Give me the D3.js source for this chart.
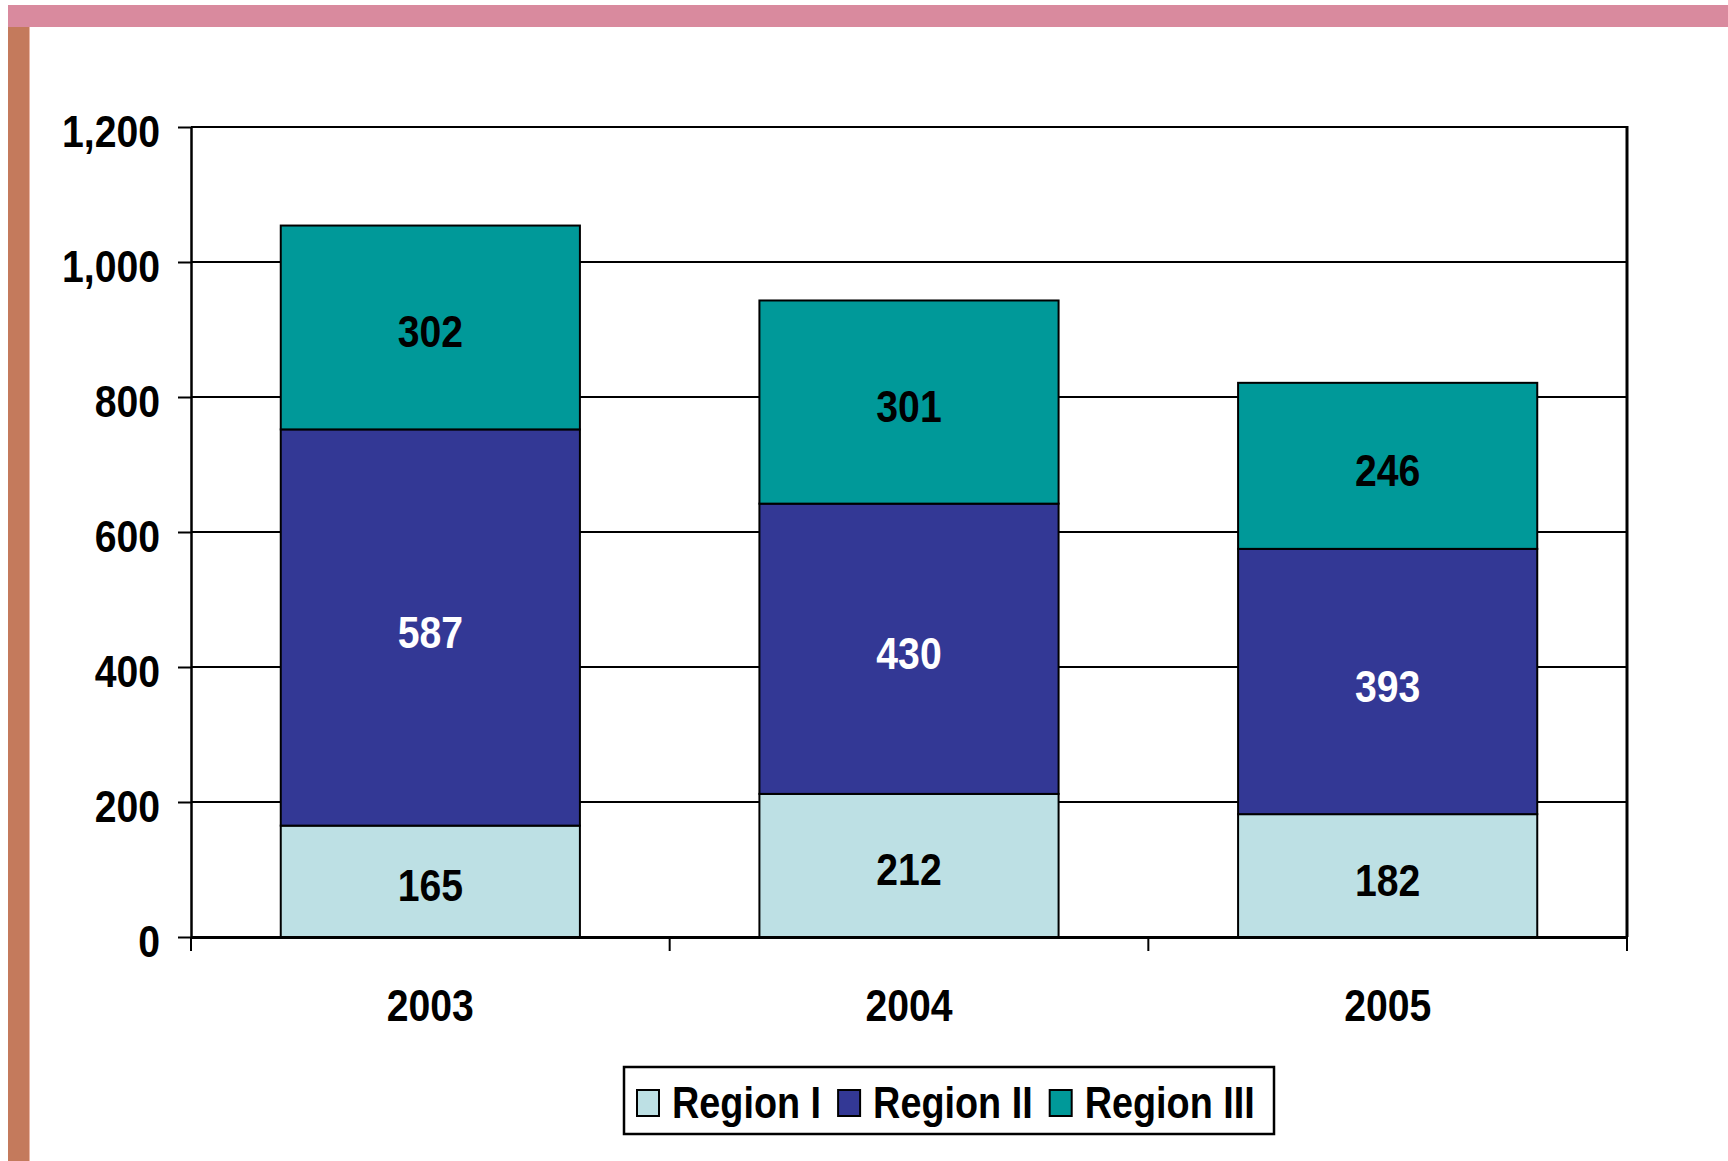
<!DOCTYPE html>
<html>
<head>
<meta charset="utf-8">
<script src="https://cdn.jsdelivr.net/npm/d3@7"></script>
<style>
  html, body { margin: 0; padding: 0; background: #fff; }
  svg { display: block; }
  text { font-family: "Liberation Sans", Arial, sans-serif; font-weight: bold; }
</style>
</head>
<body>
<script>
// data
var years = ["2003", "2004", "2005"];
var regions = ["Region I", "Region II", "Region III"];
var regionI = [165, 212, 182];
var regionII = [587, 430, 393];
var regionIII = [302, 301, 246];
var yTicks = [0, 200, 400, 600, 800, 1000, 1200];

var colors = ["#bde0e4", "#333895", "#009999"];
var labelColors = ["#000", "#fff", "#000"];

var W = 1728, H = 1161;
var NARROW = 0.87;   // Arial Narrow look: squeeze a bold sans horizontally
var NARROW_LEG = 0.84;

// move x/y into a transform so the glyphs can be squeezed
function narrow(sel, k) {
  k = k || NARROW;
  sel.each(function () {
    var t = d3.select(this);
    var tx = +t.attr("x") || 0, ty = +t.attr("y") || 0;
    t.attr("x", 0).attr("y", 0)
     .attr("transform", "translate(" + tx + "," + ty + ") scale(" + k + ",1)");
  });
}

var svg = d3.select("body").append("svg").attr("width", W).attr("height", H);

// frame decoration (pink top bar, brown left bar)
svg.append("rect").attr("x", 8).attr("y", 5).attr("width", W - 8).attr("height", 22).attr("fill", "#d98a9e");
svg.append("rect").attr("x", 8).attr("y", 27).attr("width", 21).attr("height", H - 27).attr("fill", "#c47a5c");
svg.append("rect").attr("x", 29).attr("y", 27).attr("width", 1).attr("height", H - 27).attr("fill", "#eab6a6");

var pLeft = 191, pRight = 1627, pTop = 127, pBottom = 937;

var x = d3.scaleBand().domain(years).range([pLeft, pRight]).paddingInner(0.375).paddingOuter(0.1875);
var y = d3.scaleLinear().domain([0, 1200]).range([pBottom, pTop]);

// gridlines
svg.append("g").selectAll("line").data(yTicks.filter(function (d) { return d > 0; }))
  .enter().append("line")
  .attr("x1", pLeft).attr("x2", pRight)
  .attr("y1", function (d) { return y(d); }).attr("y2", function (d) { return y(d); })
  .attr("stroke", "#000").attr("stroke-width", 2);

// stacked data
var rows = years.map(function (yr, i) {
  return { year: yr, "Region I": regionI[i], "Region II": regionII[i], "Region III": regionIII[i] };
});
var series = d3.stack().keys(regions)(rows);

var layers = svg.append("g").selectAll("g").data(series).enter().append("g")
  .attr("fill", function (d, i) { return colors[i]; });

layers.selectAll("rect").data(function (d) { return d; }).enter().append("rect")
  .attr("x", function (d) { return x(d.data.year); })
  .attr("width", x.bandwidth())
  .attr("y", function (d) { return y(d[1]); })
  .attr("height", function (d) { return y(d[0]) - y(d[1]); })
  .attr("stroke", "#000").attr("stroke-width", 2);

// segment labels
layers.each(function (s, si) {
  d3.select(this).selectAll("text").data(s).enter().append("text")
    .attr("x", function (d) { return x(d.data.year) + x.bandwidth() / 2; })
    .attr("y", function (d) { return (y(d[0]) + y(d[1])) / 2 + 20; })
    .attr("text-anchor", "middle")
    .attr("font-size", "45px")
    .attr("fill", labelColors[si])
    .text(function (d) { return d[1] - d[0]; })
    .call(narrow);
});

// right border
svg.append("line").attr("x1", pRight).attr("x2", pRight).attr("y1", pTop - 1).attr("y2", pBottom)
  .attr("stroke", "#000").attr("stroke-width", 3);

// y axis
var yAxis = svg.append("g").attr("transform", "translate(" + pLeft + ",0)")
  .call(d3.axisLeft(y).tickValues(yTicks).tickFormat(d3.format(",")).tickSizeInner(13).tickSizeOuter(0).tickPadding(18));
yAxis.attr("font-family", null).attr("font-size", null);
yAxis.select(".domain").attr("stroke", "#000").attr("stroke-width", 2.5);
yAxis.selectAll(".tick line").attr("stroke", "#000").attr("stroke-width", 2);
yAxis.selectAll(".tick text").attr("font-size", "45px").attr("fill", "#000")
  .attr("dy", null).attr("y", 19).call(narrow);

// x axis
var xAxis = svg.append("g").attr("transform", "translate(0," + pBottom + ")")
  .call(d3.axisBottom(x).tickSize(0).tickPadding(0));
xAxis.attr("font-family", null).attr("font-size", null);
xAxis.select(".domain").attr("stroke", "#000").attr("stroke-width", 3);
xAxis.selectAll(".tick text").attr("font-size", "45px").attr("fill", "#000")
  .attr("dy", null).attr("y", 84).call(narrow);

// category boundary ticks
xAxis.selectAll(".bound").data(d3.range(years.length + 1)).enter().append("line")
  .attr("class", "bound")
  .attr("x1", function (i) { return pLeft + i * x.step(); })
  .attr("x2", function (i) { return pLeft + i * x.step(); })
  .attr("y1", 0).attr("y2", 14)
  .attr("stroke", "#000").attr("stroke-width", 2);

// legend
var legend = svg.append("g");
legend.append("rect").attr("x", 624).attr("y", 1067).attr("width", 650).attr("height", 67)
  .attr("fill", "#fff").attr("stroke", "#000").attr("stroke-width", 2.5);
var lx = 637;
regions.forEach(function (r, i) {
  legend.append("rect").attr("x", lx).attr("y", 1090).attr("width", 22).attr("height", 26)
    .attr("fill", colors[i]).attr("stroke", "#000").attr("stroke-width", 2);
  var t = legend.append("text").attr("x", lx + 35).attr("y", 1118)
    .attr("font-size", "45px").attr("fill", "#000").text(r);
  var w = t.node().getComputedTextLength() * NARROW_LEG;
  t.call(narrow, NARROW_LEG);
  lx = lx + 35 + w + 17;
});
</script>
</body>
</html>
